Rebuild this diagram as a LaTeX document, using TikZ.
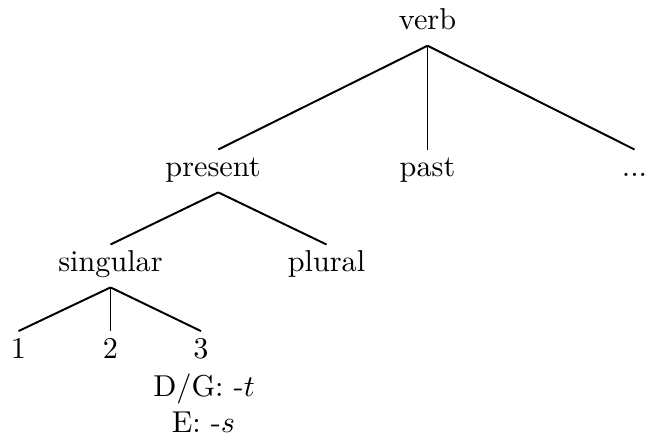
\documentclass[tikz,border=0pt]{standalone}
\begin{document}
\begin{tikzpicture}[x=0.331pt,y=-0.331pt,
  lab/.style={anchor=base,inner xsep=0pt,inner ysep=2.2pt,text height=6.6pt,text depth=2.8pt},
  note/.style={anchor=base,inner sep=0pt},
  branch/.style={line width=0.65pt}]
\useasboundingbox (0,0) rectangle (647,438);
% nodes
\node[lab] (verb) at (427.5,30) {verb};
\node[lab] (present) at (213,176.7) {present};
\node[lab] (past) at (427.5,176.7) {past};
\node[lab] (more) at (634.5,176.7) {...};
\node[lab] (sing) at (110.5,271.7) {singular};
\node[lab] (plur) at (326.5,271.7) {plural};
\node[lab] (n1) at (18.5,358.3) {1};
\node[lab] (n2) at (110.5,358.3) {2};
\node[lab] (n3) at (201,358.3) {3};
\node[note] (dg) at (204,396.7) {D/G: -$t$};
\node[note] (es) at (203.5,432.7) {E: -$s$};
% connectors
\draw[branch] (verb.south) -- ([xshift=1.75pt]present.north);
\draw[branch] (verb.south) -- (past.north);
\draw[branch] (verb.south) -- (more.north);
\draw[branch] ([xshift=1.75pt]present.south) -- (sing.north);
\draw[branch] ([xshift=1.75pt]present.south) -- (plur.north);
\draw[branch] (sing.south) -- (n1.north);
\draw[branch] (sing.south) -- (n2.north);
\draw[branch] (sing.south) -- (n3.north);
\end{tikzpicture}
\end{document}
